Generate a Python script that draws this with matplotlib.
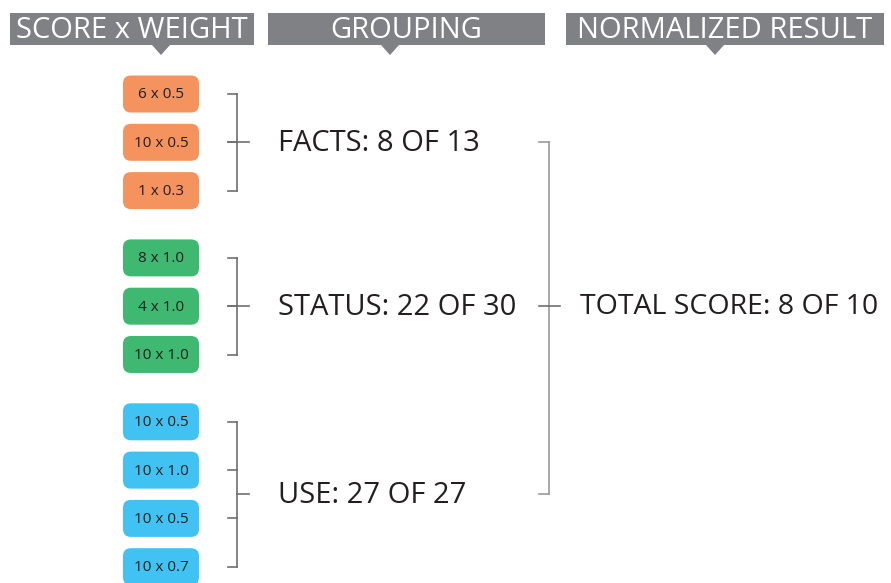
import matplotlib.pyplot as plt
from matplotlib.patches import FancyBboxPatch, Polygon

# data
headers = ['SCORE x WEIGHT', 'GROUPING', 'NORMALIZED RESULT']
group_names = ['FACTS', 'STATUS', 'USE']
group_colors = ['#f5935f', '#3fb872', '#40c3f2']
scores = [[6, 10, 1], [8, 4, 10], [10, 10, 10, 10]]
weights = [[0.5, 0.5, 0.3], [1.0, 1.0, 1.0], [0.5, 1.0, 0.5, 0.7]]
group_got = [8, 22, 27]
group_max = [13, 30, 27]
total_got = 8
total_max = 10

plt.rcParams['font.family'] = ['Open Sans', 'DejaVu Sans']

fig = plt.figure(figsize=(8.91, 5.83), dpi=100)
ax = fig.add_axes([0, 0, 1, 1])
ax.set_xlim(0, 891)
ax.set_ylim(583, 0)
ax.axis('off')

hdr_gray = '#808184'
line1 = '#6f6f6f'
line2 = '#9a9a9a'

# header bars (x0, x1, pointer x)
hdr_boxes = [(10, 254, 161), (268, 545, 390), (566, 884, 715)]
for (x0, x1, px), label in zip(hdr_boxes, headers):
    ax.add_patch(plt.Rectangle((x0, 13), x1 - x0, 32, color=hdr_gray, lw=0))
    ax.add_patch(Polygon([(px - 9, 45), (px + 9, 45), (px, 55)], color=hdr_gray, lw=0))
    ax.text((x0 + x1) / 2, 31, label, color='white', fontsize=21,
            ha='center', va='center')

# pills
pill_x = 123
pill_w = 76
pill_h = 37
r = 8
row_step = 48.3
y = 94
group_centers = []
for g in range(len(group_names)):
    ys = []
    for s, w in zip(scores[g], weights[g]):
        ax.add_patch(FancyBboxPatch((pill_x + r, y - pill_h / 2 + r), pill_w - 2 * r, pill_h - 2 * r,
                                    boxstyle='round,pad=%d' % r, fc=group_colors[g], ec='none'))
        ax.text(pill_x + pill_w / 2, y + 1, '%d x %.1f' % (s, w), fontsize=11,
                ha='center', va='center', color='#231f20')
        ys.append(y)
        y += row_step
    y += 19
    # bracket
    bx = 237
    ax.plot([bx, bx], [ys[0], ys[-1]], color=line1, lw=1.2)
    for yy in ys:
        ax.plot([228, bx], [yy, yy], color=line1, lw=1.2)
    cy = (ys[0] + ys[-1]) / 2
    if len(ys) % 2 == 1:
        ax.plot([228, 249], [cy, cy], color=line1, lw=1.2)
    else:
        ax.plot([bx, 249], [cy, cy], color=line1, lw=1.2)
    group_centers.append(cy)
    ax.text(278, cy + 1, '%s: %d OF %d' % (group_names[g], group_got[g], group_max[g]),
            fontsize=21, ha='left', va='center', color='#231f20')

# second level bracket, joined at the middle group
bx2 = 549
top, bot = group_centers[0], group_centers[-1]
mid = group_centers[1]
ax.plot([bx2, bx2], [top, bot], color=line2, lw=1.2)
ax.plot([539, bx2], [top, top], color=line2, lw=1.2)
ax.plot([539, bx2], [bot, bot], color=line2, lw=1.2)
ax.plot([539, 560], [mid, mid], color=line1, lw=1.2)
ax.text(580, mid + 1, 'TOTAL SCORE: %d OF %d' % (total_got, total_max),
        fontsize=20.5, ha='left', va='center', color='#231f20')

fig.savefig('out.png', dpi=100)
